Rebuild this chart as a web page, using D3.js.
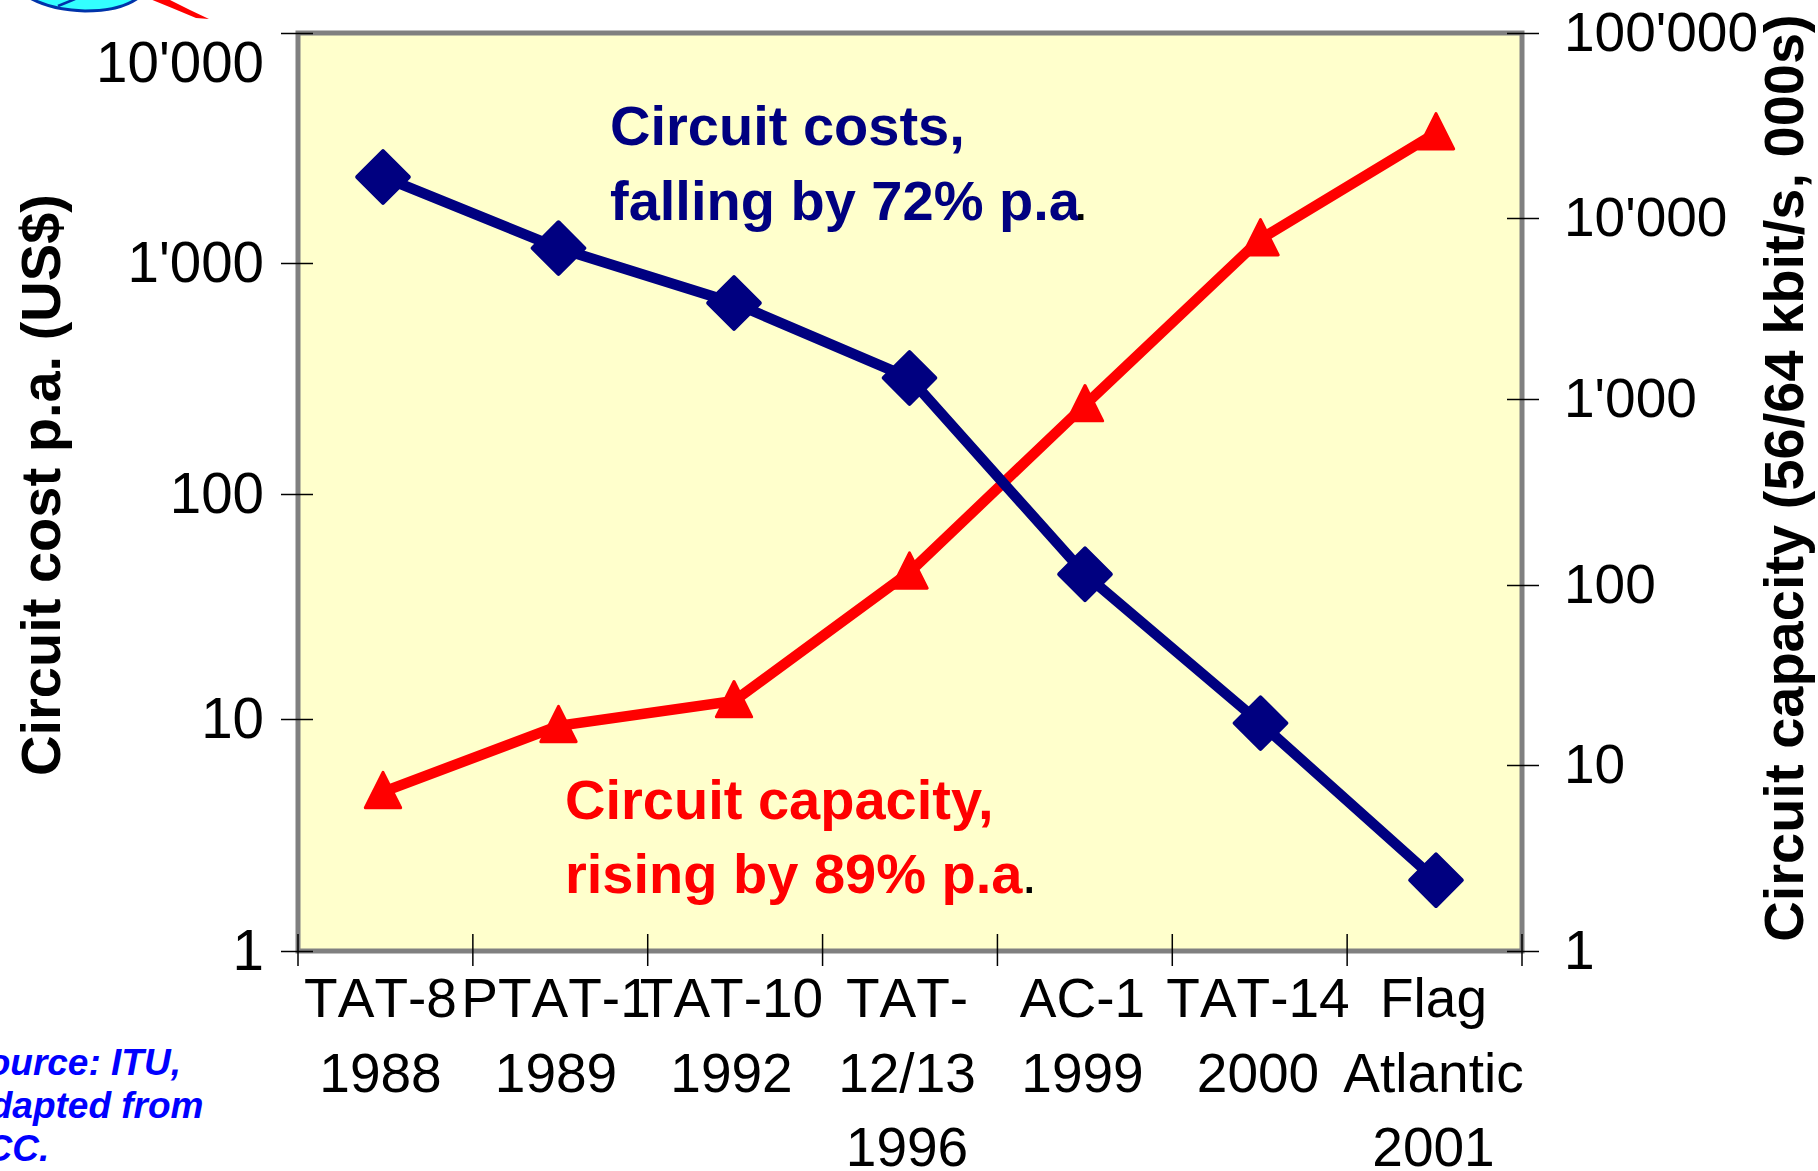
<!DOCTYPE html>
<html>
<head>
<meta charset="utf-8">
<script src="https://cdnjs.cloudflare.com/ajax/libs/d3/7.8.5/d3.min.js"></script>
<style>
html, body { margin: 0; padding: 0; background: #fff; overflow: hidden; }
svg { display: block; font-family: "Liberation Sans", Arial, sans-serif; }
</style>
</head>
<body>
<div id="chart"></div>
<script>
const cables = ['TAT-8', 'PTAT-1', 'TAT-10', 'TAT-12/13', 'AC-1', 'TAT-14', 'Flag Atlantic'];
const xLabels = [
    ['TAT-8', '1988'],
    ['PTAT-1', '1989'],
    ['TAT-10', '1992'],
    ['TAT-', '12/13', '1996'],
    ['AC-1', '1999'],
    ['TAT-14', '2000'],
    ['Flag', 'Atlantic', '2001']
];
const circuitCost = [2366, 1161, 671, 318, 44, 9.6, 2.02];
const circuitCapacity = [7.17, 16.5, 22.7, 117, 929, 7656, 28800];
const leftTicks = [1, 10, 100, 1000, 10000];
const rightTicks = [1, 10, 100, 1000, 10000, 100000];
const sourceLines = ['Source: ITU,', 'Adapted from', 'FCC.'];

const margin = {top: 33, right: 296, bottom: 220, left: 298};
const width = 1818 - margin.left - margin.right;
const height = 1171 - margin.top - margin.bottom;
const colors = {navy: '#000080', red: '#ff0000', plot: '#ffffcc', frame: '#808080', source: '#0000ff'};
const fmt = d => String(d).replace(/\B(?=(\d{3})+$)/g, "'");

const svg = d3.select('#chart').append('svg')
    .attr('width', 1818)
    .attr('height', 1171);

// Bit of the slide logo that pokes in at the top
svg.append('path')
    .attr('d', 'M30,-2 Q52,10 85,11 Q120,11 138,-2 Z')
    .attr('fill', '#33ffff')
    .attr('stroke', '#0033aa')
    .attr('stroke-width', 3);
svg.append('path')
    .attr('d', 'M58,6 L75,-1')
    .attr('fill', 'none')
    .attr('stroke', '#0033aa')
    .attr('stroke-width', 2.5);
svg.append('path')
    .attr('d', 'M150,-1 L168,-1 L190,10 L209,19 L196,18 L172,8 Z')
    .attr('fill', colors.red);

const g = svg.append('g')
    .attr('transform', `translate(${margin.left},${margin.top})`);

const xBand = d3.scaleBand().domain(cables).range([0, width]);
const x = d3.scalePoint().domain(cables).range([85, 1138]);
const yLeft = d3.scaleLog().domain([1, 10, 100, 1000, 10000]).range([height, 686, 461, 230, 0]);
const yRight = d3.scaleLog().domain([1, 10, 100, 1000, 10000, 100000]).range([height, 732, 552, 366, 185, 0]);

// Plot background
g.append('rect')
    .attr('width', width)
    .attr('height', height)
    .attr('fill', colors.plot)
    .attr('stroke', colors.frame)
    .attr('stroke-width', 5);

// Axes
const tickText = (sel, size) => sel.selectAll('text')
    .style('font-size', size)
    .style('fill', '#000');

const leftAxis = g.append('g')
    .call(d3.axisLeft(yLeft).tickValues(leftTicks).tickFormat(fmt).tickSize(0).tickPadding(34));
leftAxis.select('.domain').remove();
tickText(leftAxis, '56.5px');
leftAxis.selectAll('line').attr('x1', -17).attr('x2', 15).attr('stroke', '#000').attr('stroke-width', 1.5);
// Top label sits below its tick in the original
leftAxis.selectAll('.tick').filter(d => d === 10000).select('text').attr('y', 30);

const rightAxis = g.append('g')
    .attr('transform', `translate(${width},0)`)
    .call(d3.axisRight(yRight).tickValues(rightTicks).tickFormat(fmt).tickSize(0).tickPadding(42));
rightAxis.select('.domain').remove();
tickText(rightAxis, '55px');
rightAxis.selectAll('line').attr('x1', -15).attr('x2', 17).attr('stroke', '#000').attr('stroke-width', 1.5);

// Tick marks sit on the band edges, labels near the point positions
g.selectAll('.xtick')
    .data(cables.concat(['end']))
    .join('line')
    .attr('class', 'xtick')
    .attr('x1', d => d === 'end' ? width : xBand(d))
    .attr('x2', d => d === 'end' ? width : xBand(d))
    .attr('y1', height - 17)
    .attr('y2', height + 15)
    .attr('stroke', '#000')
    .attr('stroke-width', 1.5);

g.selectAll('.xlabel')
    .data(cables)
    .join('text')
    .attr('class', 'xlabel')
    .attr('text-anchor', 'middle')
    .style('font-size', '55px')
    .style('font-kerning', 'none')
    .each(function(d, i) {
        d3.select(this).selectAll('tspan')
            .data(xLabels[i])
            .join('tspan')
            .attr('x', x(d) - 2.5)
            .attr('y', (t, j) => height + 66 + j * 74.5)
            .text(t => t);
    });

// Lines
const costLine = d3.line()
    .x((d, i) => x(cables[i]))
    .y(d => yLeft(d));
const capacityLine = d3.line()
    .x((d, i) => x(cables[i]))
    .y(d => yRight(d));

g.append('path')
    .attr('d', capacityLine(circuitCapacity))
    .attr('fill', 'none')
    .attr('stroke', colors.red)
    .attr('stroke-width', 10.5);
g.append('path')
    .attr('d', costLine(circuitCost))
    .attr('fill', 'none')
    .attr('stroke', colors.navy)
    .attr('stroke-width', 10.5);

// Markers
const tallTriangle = {
    draw(context, size) {
        const w = Math.sqrt(size);
        context.moveTo(0, -0.55 * w);
        context.lineTo(0.5 * w, 0.45 * w);
        context.lineTo(-0.5 * w, 0.45 * w);
        context.closePath();
    }
};

g.selectAll('.cost-marker')
    .data(circuitCost)
    .join('path')
    .attr('class', 'cost-marker')
    .attr('d', d3.symbol(d3.symbolDiamond2, 1700))
    .attr('transform', (d, i) => `translate(${x(cables[i])},${yLeft(d)})`)
    .attr('fill', colors.navy)
    .attr('stroke', colors.navy)
    .attr('stroke-width', 4)
    .attr('stroke-linejoin', 'round');

g.selectAll('.capacity-marker')
    .data(circuitCapacity)
    .join('path')
    .attr('class', 'capacity-marker')
    .attr('d', d3.symbol(tallTriangle, 1250))
    .attr('transform', (d, i) => `translate(${x(cables[i])},${yRight(d)})`)
    .attr('fill', colors.red)
    .attr('stroke', colors.red)
    .attr('stroke-width', 3)
    .attr('stroke-linejoin', 'round');

// Axis titles
svg.append('text')
    .attr('transform', 'translate(60,485) rotate(-90)')
    .attr('text-anchor', 'middle')
    .style('font-size', '56px')
    .style('font-weight', 'bold')
    .text('Circuit cost p.a. (US$)');
svg.append('text')
    .attr('transform', 'translate(1803,478) rotate(-90)')
    .attr('text-anchor', 'middle')
    .style('font-size', '56px')
    .style('font-weight', 'bold')
    .text('Circuit capacity (56/64 kbit/s, 000s)');

// Annotations, the closing full stop is a small black one
const note = (px, py, fill, text, dotShift) => {
    const t = svg.append('text')
        .attr('x', px)
        .attr('y', py)
        .attr('fill', fill)
        .style('font-size', '56px')
        .style('font-weight', 'bold')
        .text(text);
    if (dotShift !== undefined) {
        t.append('tspan')
            .attr('fill', '#000')
            .attr('dx', dotShift)
            .style('font-weight', 'normal')
            .text('.');
    }
};
note(610, 145, colors.navy, 'Circuit costs,');
note(610, 220, colors.navy, 'falling by 72% p.a', -7);
note(565, 819, colors.red, 'Circuit capacity,');
note(565, 893, colors.red, 'rising by 89% p.a', -1);

// Source note, cut off by the page edge in the original
svg.selectAll('.source')
    .data(sourceLines)
    .join('text')
    .attr('class', 'source')
    .attr('x', -37)
    .attr('y', (d, i) => 1075 + i * 43)
    .attr('fill', colors.source)
    .style('font-size', '37px')
    .style('font-weight', 'bold')
    .style('font-style', 'italic')
    .text(d => d);
</script>
</body>
</html>
